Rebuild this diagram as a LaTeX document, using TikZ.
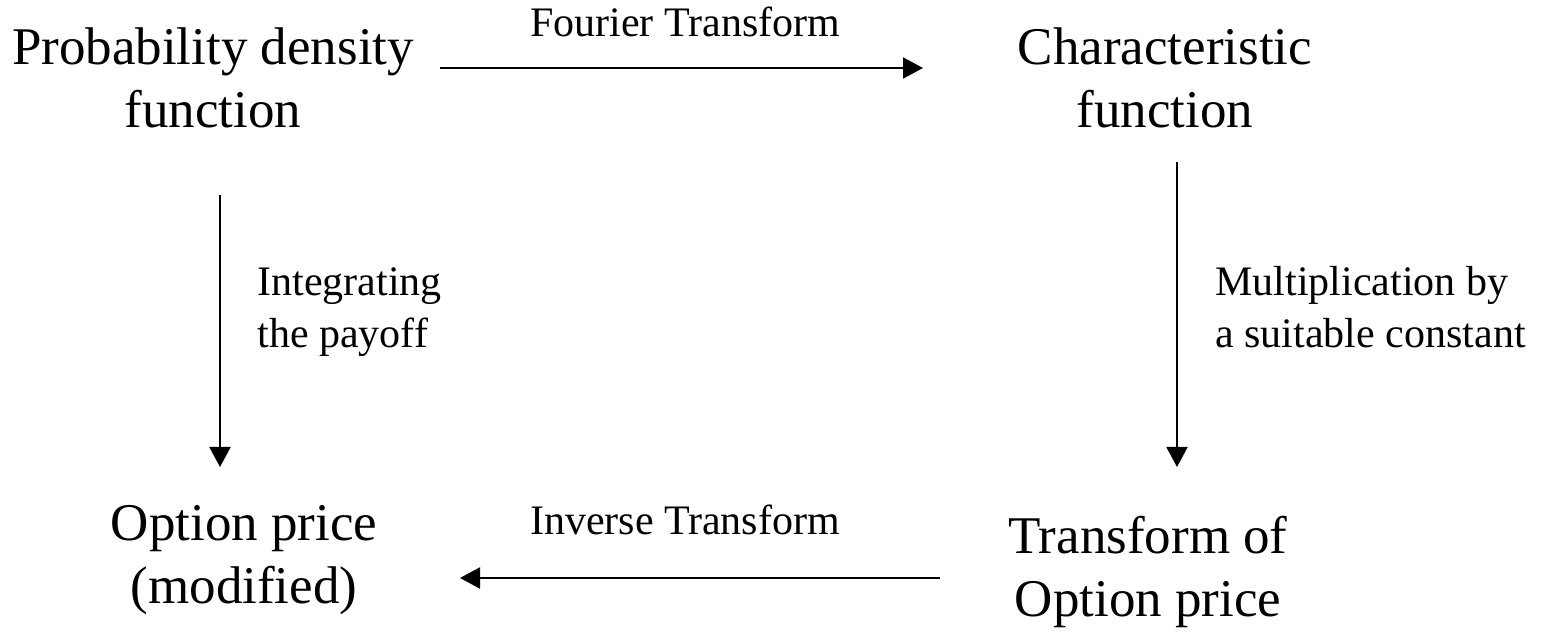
\documentclass[tikz,border=0pt]{standalone}
\usepackage{fontspec}
\setmainfont{Liberation Serif}
\usetikzlibrary{arrows.meta}
\tikzset{
  bigtext/.style={font=\fontsize{26.5}{31.5}\selectfont, align=center, inner sep=0pt},
  smalltext/.style={font=\fontsize{21}{26}\selectfont, align=left, inner sep=0pt},
  arr/.style={line width=1pt, -{Triangle[length=10pt,width=10.5pt]}}
}
\begin{document}
\begin{tikzpicture}[x=0.5pt,y=-0.5pt]
        \useasboundingbox (0,0) rectangle (1543,635);

        \node[bigtext] (pdf) at (213,78) {Probability density\\function}; %pdf
        \node[bigtext] (charf) at (1165,78) {Characteristic\\function}; %char
        \node[bigtext] (opt) at (244,560.5) {Option price\\(modified)}; %option
        \node[bigtext] (tropt) at (1148,572) {Transform of\\Option price}; %transform

        \coordinate (ft-a) at (440,68);
        \coordinate (ft-b) at (923,68);
        \coordinate (mul-a) at (1177,162);
        \coordinate (mul-b) at (1177,467);
        \coordinate (inv-a) at (940,578);
        \coordinate (inv-b) at (460,578);
        \coordinate (int-a) at (220,195);
        \coordinate (int-b) at (220,467);

        \draw[arr] (ft-a) -- (ft-b);
        \draw[arr] (mul-a) -- (mul-b);
        \draw[arr] (inv-a) -- (inv-b);
        \draw[arr] (int-a) -- (int-b);

        \node[smalltext] (ft) at (685,21.5) {Fourier Transform};
        \node[smalltext] (inv) at (685,520) {Inverse Transform};
        \node[smalltext, anchor=west] (int) at (257,312) {Integrating\\the payoff};
        \node[smalltext, anchor=west] (mul) at (1215,307.5) {Multiplication by\\a suitable constant};
    \end{tikzpicture}
\end{document}
